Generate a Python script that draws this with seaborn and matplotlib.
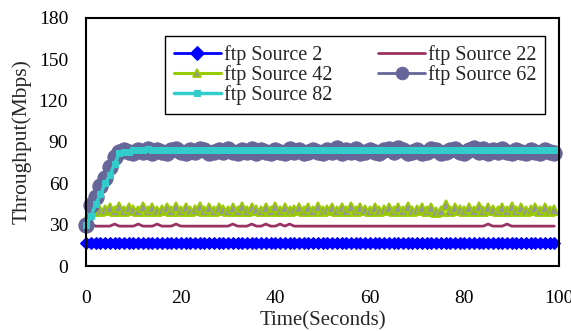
import matplotlib
matplotlib.use("Agg")
import matplotlib.pyplot as plt
import seaborn as sns
import pandas as pd

time_s = list(range(100))

src2 = [17, 17, 17, 17, 17, 17, 17, 17, 17, 17,
        17, 17, 17, 17, 17, 17, 17, 17, 17, 17,
        17, 17, 17, 17, 17, 17, 17, 17, 17, 17,
        17, 17, 17, 17, 17, 17, 17, 17, 17, 17,
        17, 17, 17, 17, 17, 17, 17, 17, 17, 17,
        17, 17, 17, 17, 17, 17, 17, 17, 17, 17,
        17, 17, 17, 17, 17, 17, 17, 17, 17, 17,
        17, 17, 17, 17, 17, 17, 17, 17, 17, 17,
        17, 17, 17, 17, 17, 17, 17, 17, 17, 17,
        17, 17, 17, 17, 17, 17, 17, 17, 17, 17]

src22 = [30, 30.5, 29, 29, 29, 29, 30.5, 29, 29, 29,
         29, 30.5, 29, 29, 29, 30.5, 29, 29, 29, 30.5,
         29, 29, 29, 29, 29, 29, 29, 29, 29, 29,
         29, 30.5, 29, 29, 29, 30.5, 29, 29, 30.5, 29,
         29, 30.5, 29, 30.5, 29, 29, 29, 29, 29, 29,
         29, 29, 29, 29, 29, 29, 29, 29, 29, 29,
         29, 29, 29, 29, 29, 29, 29, 29, 29, 29,
         29, 29, 29, 29, 29, 29, 29, 29, 29, 29,
         29, 29, 29, 29, 29, 30.5, 29, 29, 29, 30.5,
         29, 29, 29, 29, 29, 29, 29, 29, 29, 29]

src42 = [33, 40, 42, 40, 41, 42, 40, 43, 40, 42,
         41, 40, 43, 40, 42, 40, 41, 42, 40, 43,
         40, 42, 40, 41, 43, 40, 42, 40, 42, 41,
         40, 42, 40, 43, 40, 42, 41, 40, 42, 40,
         43, 40, 42, 40, 41, 42, 40, 42, 40, 43,
         40, 41, 42, 40, 42, 40, 43, 40, 42, 41,
         40, 42, 40, 41, 42, 40, 42, 40, 43, 40,
         41, 42, 40, 42, 39, 40, 44, 40, 42, 41,
         40, 42, 40, 43, 40, 42, 41, 40, 42, 40,
         43, 40, 42, 40, 41, 42, 40, 42, 40, 41]

src62 = [30, 44, 50, 58, 64, 72, 79, 83, 84, 83,
         82, 84, 83, 85, 82, 84, 83, 82, 84, 85,
         83, 82, 84, 83, 85, 84, 82, 83, 84, 83,
         85, 83, 82, 84, 83, 85, 82, 84, 83, 82,
         84, 83, 82, 85, 83, 84, 82, 83, 84, 83,
         82, 84, 83, 86, 82, 84, 83, 85, 82, 83,
         84, 83, 82, 84, 85, 83, 86, 84, 82, 83,
         84, 82, 83, 85, 84, 82, 83, 84, 85, 83,
         82, 84, 86, 83, 85, 82, 84, 83, 85, 83,
         82, 84, 83, 82, 84, 83, 82, 84, 83, 82]

src82 = [30, 36, 45, 52, 60, 66, 74, 82, 83, 83,
         84, 84, 84, 85, 84, 84, 84, 84, 84, 84,
         84, 84, 84, 84, 84, 84, 84, 84, 84, 84,
         84, 84, 84, 84, 84, 84, 84, 84, 84, 84,
         84, 84, 84, 84, 84, 84, 84, 84, 84, 84,
         84, 84, 84, 84, 84, 84, 84, 84, 84, 84,
         84, 84, 84, 84, 84, 84, 84, 84, 84, 84,
         84, 84, 84, 84, 84, 84, 84, 84, 84, 84,
         84, 84, 84, 84, 84, 84, 84, 84, 84, 84,
         84, 84, 84, 84, 84, 84, 84, 84, 84, 84]

labels = ["ftp Source 2", "ftp Source 22", "ftp Source 42", "ftp Source 62", "ftp Source 82"]
y_ticks = [0, 30, 60, 90, 120, 150, 180]
x_ticks = [0, 20, 40, 60, 80, 100]

sns.set_style("white")
plt.rcParams["font.family"] = ["Liberation Serif", "DejaVu Serif"]
plt.rcParams["font.size"] = 14

fig = plt.figure(figsize=(5.71, 3.31), dpi=100)
ax = fig.add_axes([0.151, 0.196, 0.828, 0.75])

styles = [
    (src2, dict(color="#0000FF", marker="D", markersize=6, markerfacecolor="#0000FF",
                markeredgecolor="#0000FF", linewidth=2)),
    (src22, dict(color="#993366", marker=None, linewidth=2)),
    (src42, dict(color="#99CC00", marker="^", markersize=6.5, markerfacecolor="#969696",
                 markeredgecolor="#99CC00", markeredgewidth=1.3, linewidth=2.2)),
    (src62, dict(color="#666699", marker="o", markersize=11, markerfacecolor="#666699",
                 markeredgecolor="#666699", linewidth=2)),
    (src82, dict(color="#33CCCC", marker="s", markersize=4.5, markerfacecolor="#33CCCC",
                 markeredgecolor="#33CCCC", linewidth=2.5)),
]
for (vals, kw), lab in zip(styles, labels):
    df = pd.DataFrame({"t": time_s, "v": vals})
    sns.lineplot(data=df, x="t", y="v", ax=ax, label=lab, clip_on=False, **kw)

ax.set_xlim(0, 100)
ax.set_ylim(0, 180)
ax.set_xticks(x_ticks)
ax.set_yticks(y_ticks)
ax.tick_params(direction="inout", length=8, width=1, colors="black", labelsize=14)
ax.tick_params(axis="y", pad=9)
ax.tick_params(axis="x", pad=13)
for s in ax.spines.values():
    s.set_color("black")
    s.set_linewidth(1.5)
ax.set_xlabel("Time(Seconds)", fontsize=15, labelpad=3)
ax.set_ylabel("Throughput(Mbps)", fontsize=15.5, labelpad=5)

handles, labs = ax.get_legend_handles_labels()
order = [0, 2, 4, 1, 3]
leg = ax.legend([handles[i] for i in order], [labs[i] for i in order],
                ncol=2, loc="upper left", bbox_to_anchor=(0.167, 0.927), frameon=True,
                fancybox=False, edgecolor="black", framealpha=1, fontsize=14.5,
                handlelength=2.3, handletextpad=0.15, columnspacing=2.3,
                borderpad=0.45, labelspacing=0.0, borderaxespad=0)
leg.get_frame().set_linewidth(1)
leg_sizes = {"ftp Source 2": 7, "ftp Source 42": 6, "ftp Source 62": 9, "ftp Source 82": 4}
for h, t in zip(leg.legend_handles, leg.get_texts()):
    if t.get_text() in leg_sizes:
        h.set_markersize(leg_sizes[t.get_text()])

fig.savefig("out.png", dpi=100)
